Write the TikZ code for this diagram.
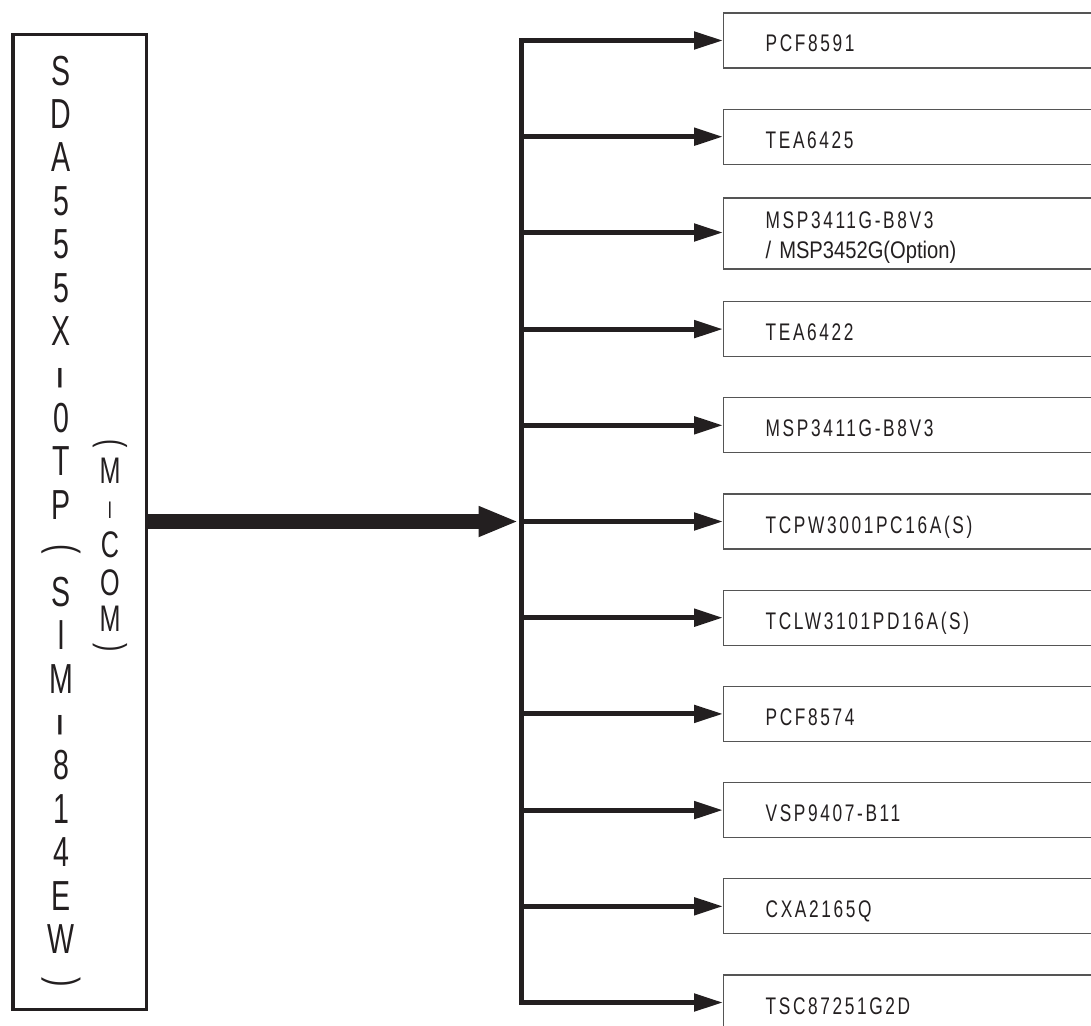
\documentclass[tikz,border=0pt]{standalone}
\usepackage{fontspec}
\setmainfont{Liberation Sans}
\newfontfamily\vfont[FakeStretch=0.68]{Liberation Sans}
\newfontfamily\hfont{Liberation Sans}
\newfontfamily\lblfont[FakeStretch=0.72,LetterSpace=11]{Liberation Sans}
\newfontfamily\optfont[FakeStretch=0.84]{Liberation Sans}
\usetikzlibrary{arrows.meta}
\definecolor{ink}{HTML}{231F20}
\definecolor{boxline}{HTML}{555555}
\tikzset{
  mainbox/.style={draw=ink, line width=3.5pt, inner sep=0pt},
  icbox/.style={draw=boxline, line width=1.3pt, anchor=west, minimum height=55pt,
    text width=330pt, align=left, inner xsep=42pt, inner ysep=0pt,
    font=\lblfont\fontsize{24}{30}\selectfont, text=ink},
  oneline/.style={text height=23pt, text depth=0pt},
  busline/.style={line width=5pt, draw=ink, line cap=rect},
  branch/.style={line width=5pt, draw=ink, -{Triangle[length=29pt,width=17pt]}},
  mainarrow/.style={line width=15pt, draw=ink, -{Triangle[length=40pt,width=28pt]}, shorten >=2.5pt},
  vch/.style={font=\vfont\fontsize{42}{42}\selectfont, anchor=base, inner sep=0pt, text=ink},
  mch/.style={font=\vfont\fontsize{37}{37}\selectfont, anchor=base, inner sep=0pt, text=ink},
  vdash/.style={font=\hfont\fontsize{42}{42}\selectfont, rotate=90, anchor=center, inner sep=0pt, text=ink},
  vparen/.style={font=\vfont\fontsize{42}{42}\selectfont, rotate=-90, anchor=center, inner sep=0pt, text=ink},
  mparen/.style={font=\vfont\fontsize{37}{37}\selectfont, rotate=-90, anchor=center, inner sep=0pt, text=ink}
}
\begin{document}
\begin{tikzpicture}[x=1pt,y=-1pt]
\useasboundingbox (0,0) rectangle (1091,1025);
\fill[white] (0,0) rectangle (1091,1025);

% main controller box
\node[mainbox, minimum width=133.5pt, minimum height=974.5pt] (main) at (79.5,522) {};

% vertical text SDA555X-OTP(SIM-814EW)
\foreach \c/\i in {S/1,D/2,A/3,5/4,5/5,5/6,X/7,0/9,T/10,P/11,S/13,I/14,M/15,8/17,1/18,4/19,E/20,W/21}
  \node[vch] (v\i) at (61,{85+43.43*(\i-1)}) {\c};
\node[vdash] (v8) at (65.5,378) {\scalebox{1.9}[1]{-}};
\node[vdash] (v16) at (65.5,725) {\scalebox{1.9}[1]{-}};
\node[vparen] (v12) at (61,549) {(};
\node[vparen] (v22) at (61,982) {)};

% vertical text (MICOM)
\node[mparen] (m0) at (110,444) {(};
\node[mch] (m1) at (110,483) {M};
\node[mch, font=\vfont\fontsize{24}{24}\selectfont] (m2) at (110,518.5) {I};
\node[mch] (m3) at (110,557) {C};
\node[mch] (m4) at (110,595) {O};
\node[mch] (m5) at (110,631) {M};
\node[mparen] (m6) at (110,648) {)};

% target ICs
\node[icbox, oneline] (r1)  at (723,40.5)   {PCF8591};
\node[icbox, oneline] (r2)  at (723,136.7)  {TEA6425};
\node[icbox, minimum height=71pt] (r3) at (723,233.5)
  {\rule{0pt}{25pt}MSP3411G-B8V3\\\optfont / MSP3452G(Option)};
\node[icbox, oneline] (r4)  at (723,329.1)  {TEA6422};
\node[icbox, oneline] (r5)  at (723,425.3)  {MSP3411G-B8V3};
\node[icbox, oneline] (r6)  at (723,521.5)  {TCPW3001PC16A(S)};
\node[icbox, oneline] (r7)  at (723,617.7)  {TCLW3101PD16A(S)};
\node[icbox, oneline] (r8)  at (723,713.9)  {PCF8574};
\node[icbox, oneline] (r9)  at (723,810.1)  {VSP9407-B11};
\node[icbox, oneline] (r10) at (723,906.3)  {CXA2165Q};
\node[icbox, oneline] (r11) at (723,1002.5) {TSC87251G2D};

% bus junctions
\foreach \k in {1,...,11}
  \coordinate (j\k) at (521,0 |- r\k.west);
\coordinate (j3) at (521,232.5);

% bus
\draw[busline] (j1) -- (j11);
% branches
\foreach \k in {1,2,4,5,6,7,8,9,10,11}
  \draw[branch] (j\k) -- (r\k.west);
\draw[branch] (j3) -- (r3.west |- j3);

% main arrow
\draw[mainarrow] (main.east |- j6) -- (j6);
\end{tikzpicture}
\end{document}
